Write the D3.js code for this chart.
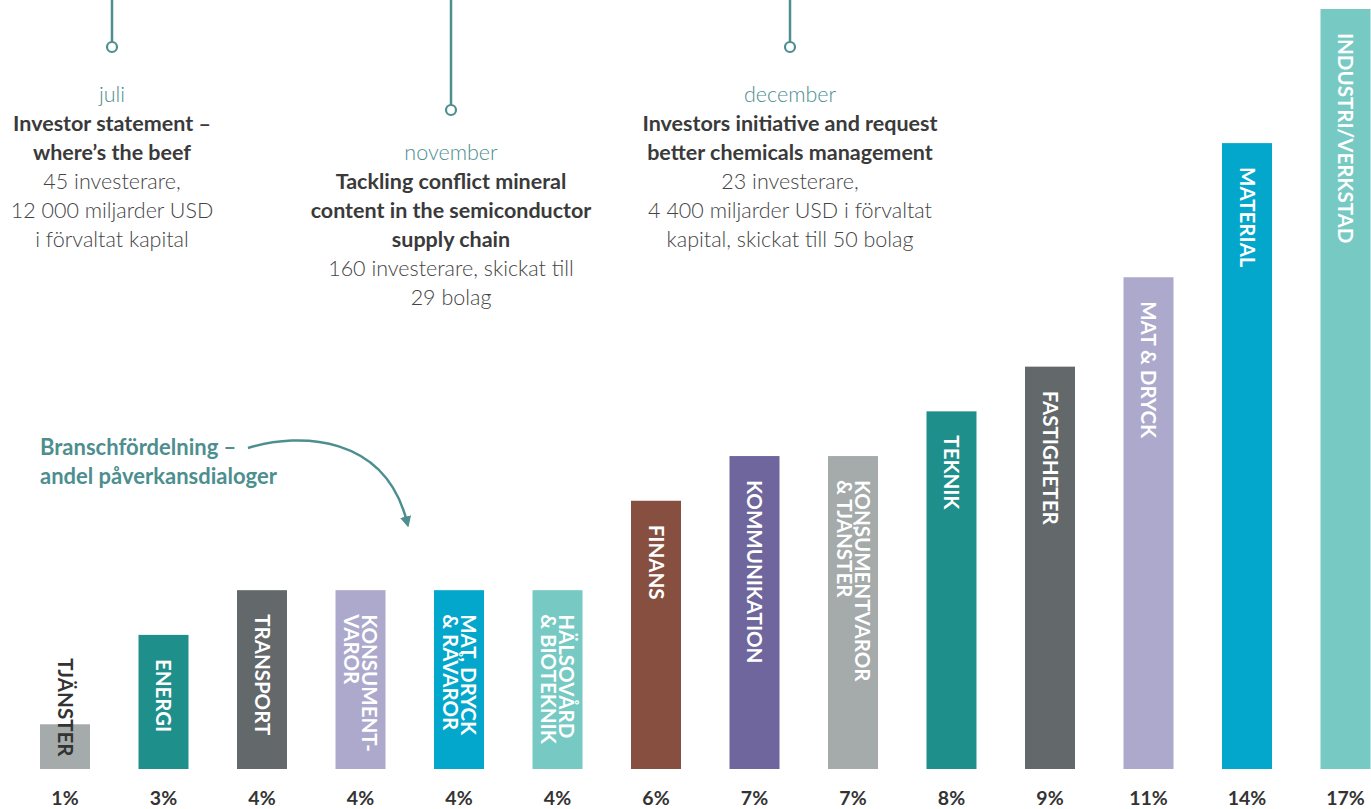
<html lang="sv">

<head>
  <meta charset="utf-8">
  <title>Branschfördelning – andel påverkansdialoger</title>
  <script type="text/javascript" src="https://d3js.org/d3.v7.min.js"></script>
  <style>
    body { margin: 0; background: #fff; }
    svg { font-family: "Lato", "Open Sans", sans-serif; }
  </style>
</head>

<body>
  <svg width="1371" height="809"></svg>
  <script>
    // data
    const categories = [
      ["TJÄNSTER"], ["ENERGI"], ["TRANSPORT"], ["KONSUMENT-", "VAROR"],
      ["MAT, DRYCK", "& RÅVAROR"], ["HÄLSOVÅRD", "& BIOTEKNIK"], ["FINANS"],
      ["KOMMUNIKATION"], ["KONSUMENTVAROR", "& TJÄNSTER"], ["TEKNIK"],
      ["FASTIGHETER"], ["MAT & DRYCK"], ["MATERIAL"], ["INDUSTRI/VERKSTAD"]
    ];
    const values = [1, 3, 4, 4, 4, 4, 6, 7, 7, 8, 9, 11, 14, 17];
    const barColors = [
      "#a5aaab", "#1f8f8c", "#63686a", "#aca9cd", "#04a7cc", "#77cac4", "#874f40",
      "#6e669c", "#a5aaab", "#1f8f8c", "#63686a", "#aca9cd", "#04a7cc", "#77cac4"
    ];

    const months = ["juli", "november", "december"];
    const eventTitles = [
      ["Investor statement –", "where’s the beef"],
      ["Tackling conflict mineral", "content in the semiconductor", "supply chain"],
      ["Investors initiative and request", "better chemicals management"]
    ];
    const eventDetails = [
      ["45 investerare,", "12 000 miljarder USD", "i förvaltat kapital"],
      ["160 investerare, skickat till", "29 bolag"],
      ["23 investerare,", "4 400 miljarder USD i förvaltat", "kapital, skickat till 50 bolag"]
    ];
    const annotation = ["Branschfördelning –", "andel påverkansdialoger"];

    const teal = "#4d8e8f";
    const svg = d3.select("svg");
    const ids = d3.range(values.length);

    const x = d3.scaleBand()
      .domain(ids)
      .range([40, 1370.5])
      .paddingInner(0.4924)
      .paddingOuter(0);

    const y = d3.scaleLinear()
      .domain([0, 17])
      .range([769, 9]);

    // bars
    svg.selectAll("rect.bar")
      .data(ids)
      .enter()
      .append("rect")
      .attr("class", "bar")
      .attr("x", i => x(i))
      .attr("y", i => y(values[i]))
      .attr("width", x.bandwidth())
      .attr("height", i => y(0) - y(values[i]))
      .attr("fill", i => barColors[i]);

    // rotated bar labels
    const labelSize = 20.5, lineGap = 18;
    const labels = svg.selectAll("g.label")
      .data(ids)
      .enter()
      .append("g")
      .attr("class", "label")
      .attr("transform", i => {
        const top = values[i] < 2 ? y(values[i]) - 66 : y(values[i]) + 24;
        return `translate(${x(i) + x.bandwidth() / 2},${top}) rotate(90)`;
      });

    labels.each(function (i) {
      const lines = categories[i];
      const n = lines.length;
      d3.select(this).selectAll("text")
        .data(lines)
        .enter()
        .append("text")
        .attr("x", 0)
        .attr("y", (d, k) => (k - (n - 1) / 2) * lineGap + labelSize * 0.36)
        .attr("font-size", labelSize)
        .attr("font-weight", 700)
        .attr("fill", values[i] < 2 ? "#333" : "#fff")
        .text(d => d);
    });

    // percent labels
    svg.selectAll("text.pct")
      .data(ids)
      .enter()
      .append("text")
      .attr("class", "pct")
      .attr("x", i => x(i) + x.bandwidth() / 2)
      .attr("y", 805)
      .attr("text-anchor", "middle")
      .attr("font-size", 19.5)
      .attr("font-weight", 700)
      .attr("fill", "#333")
      .text(i => values[i] + "%");

    // timeline events
    const eventX = [112, 451, 790];
    const dotY = [47, 110, 47];
    const monthY = [102, 160, 102];
    const lineH = 29;

    months.forEach((m, e) => {
      svg.append("line")
        .attr("x1", eventX[e]).attr("x2", eventX[e])
        .attr("y1", 0).attr("y2", dotY[e] - 5)
        .attr("stroke", teal)
        .attr("stroke-width", 2.5);
      svg.append("circle")
        .attr("cx", eventX[e]).attr("cy", dotY[e])
        .attr("r", 5)
        .attr("fill", "#fff")
        .attr("stroke", teal)
        .attr("stroke-width", 2.2);

      const g = svg.append("g")
        .attr("transform", `translate(${eventX[e]},${monthY[e]})`)
        .attr("text-anchor", "middle")
        .attr("font-size", 21.5);

      g.append("text")
        .attr("y", 0)
        .attr("fill", teal)
        .attr("font-weight", 300)
        .text(m);

      eventTitles[e].forEach((t, k) => {
        g.append("text")
          .attr("y", (k + 1) * lineH)
          .attr("fill", "#3a3a3a")
          .attr("font-weight", 700)
          .text(t);
      });

      const off = eventTitles[e].length + 1;
      eventDetails[e].forEach((t, k) => {
        g.append("text")
          .attr("y", (off + k) * lineH)
          .attr("fill", "#444")
          .attr("font-weight", 300)
          .text(t);
      });
    });

    // annotation text and arrow
    svg.append("g")
      .selectAll("text")
      .data(annotation)
      .enter()
      .append("text")
      .attr("x", 40)
      .attr("y", (d, k) => 455 + k * 29)
      .attr("font-size", 22)
      .attr("font-weight", 700)
      .attr("fill", teal)
      .text(d => d);

    svg.append("defs")
      .append("marker")
      .attr("id", "arrow")
      .attr("viewBox", "0 0 10 10")
      .attr("refX", 5).attr("refY", 5)
      .attr("markerWidth", 4.5).attr("markerHeight", 4.5)
      .attr("orient", "auto")
      .append("path")
      .attr("d", "M0,0 L10,5 L0,10 Z")
      .attr("fill", teal);

    svg.append("path")
      .attr("d", "M248,448 C300,432 385,435 407,522")
      .attr("fill", "none")
      .attr("stroke", teal)
      .attr("stroke-width", 2.5)
      .attr("marker-end", "url(#arrow)");
  </script>
</body>

</html>
